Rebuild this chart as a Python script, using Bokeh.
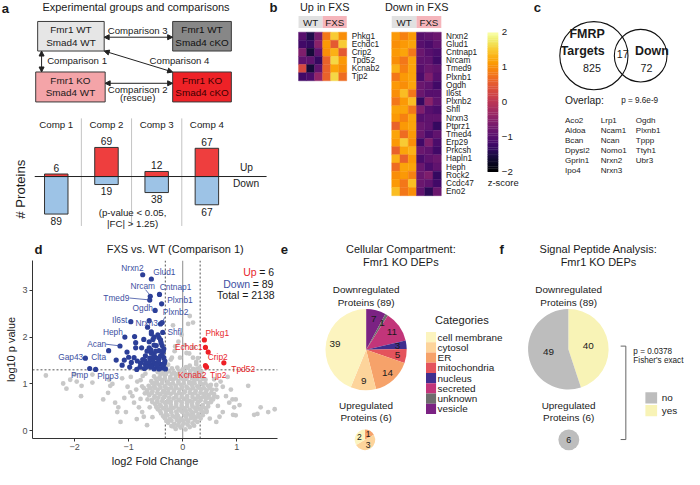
import math
from bokeh.plotting import figure
from bokeh.layouts import row, column
from bokeh.models import Range1d, ColumnDataSource, Arrow, NormalHead, Span, FixedTicker
from bokeh.palettes import Inferno256
from bokeh.transform import linear_cmap
from bokeh.core.properties import value
from bokeh.embed import file_html
from bokeh.resources import INLINE

# ====================== DATA ======================
groups = [("Fmr1 WT", "Smad4 WT"), ("Fmr1 WT", "Smad4 cKO"),
          ("Fmr1 KO", "Smad4 WT"), ("Fmr1 KO", "Smad4 cKO")]
comp_labels = ["Comp 1", "Comp 2", "Comp 3", "Comp 4"]
n_up = [6, 69, 12, 67]
n_down = [89, 19, 38, 67]

heat_cols = ["WT", "WT", "WT", "FXS", "FXS", "FXS"]
up_genes = ["Phkg1", "Echdc1", "Crip2", "Tpd52", "Kcnab2", "Tjp2"]
up_z = [[-1.0, -1.5, -0.7, 0.8, 1.5, 1.0],
        [-1.2, -1.3, -0.5, 1.1, 0.5, 1.5],
        [-0.6, -1.6, -0.9, 1.0, 1.3, 0.5],
        [-0.9, -0.9, -1.3, 0.6, 1.6, 1.1],
        [0.3, -1.6, -0.9, 0.6, 1.2, 1.0],
        [-1.2, -1.1, -0.4, 0.6, 1.6, 0.7]]
down_genes = ["Nrxn2", "Glud1", "Cntnap1", "Nrcam", "Tmed9", "Plxnb1", "Ogdh", "Il6st",
              "Plxnb2", "Shfl", "Nrxn3", "Ptprz1", "Tmed4", "Erp29", "Prkcsh", "Hapln1",
              "Heph", "Rock2", "Ccdc47", "Eno2"]
down_z = [[1.1, 0.9, 1.1, -1.0, -0.9, -0.8],
          [1.0, 1.1, 1.2, -1.0, -1.1, -0.9],
          [1.1, 1.2, 0.8, -0.8, -1.0, -1.1],
          [1.0, 0.8, 1.2, -0.9, -0.9, -1.2],
          [1.3, 0.9, 1.2, -1.0, -0.8, -0.9],
          [0.8, 1.1, 1.2, -1.1, -0.6, -1.0],
          [1.1, 1.0, 1.2, -0.8, -0.9, -1.2],
          [1.0, 1.4, 0.8, -0.8, -1.0, -1.0],
          [0.8, 1.1, 1.4, -1.3, -0.5, -0.9],
          [1.2, 1.2, 0.8, -0.6, -1.0, -1.1],
          [1.1, 0.9, 1.2, -1.0, -0.9, -0.9],
          [0.6, 1.1, 1.2, -0.8, -0.9, -1.3],
          [1.2, 0.7, 1.1, -0.8, -1.1, -0.9],
          [1.1, 1.5, 1.0, -1.2, -0.6, -1.1],
          [0.6, 1.2, 1.3, -0.8, -0.9, -1.2],
          [1.3, 0.6, 1.1, -1.1, -0.9, -0.8],
          [0.7, 1.2, 1.2, -0.8, -1.1, -0.9],
          [1.0, 1.1, 0.9, -0.8, -0.6, -1.3],
          [1.1, 0.8, 1.4, -0.8, -0.9, -1.2],
          [1.4, 0.8, 1.0, -0.9, -1.4, -0.8]]
z_ticks = [2, 1, 0, -1, -2]

venn_names = [["FMRP", "Targets"], ["Down"]]
venn_only = [825, 72]
venn_overlap = 17
overlap_p = "p = 9.6e-9"
overlap_genes = ["Aco2", "Aldoa", "Bcan", "Dpysl2", "Gprin1", "Ipo4",
                 "Lrp1", "Ncam1", "Ncan", "Nomo1", "Nrxn2", "Nrxn3",
                 "Ogdh", "Plxnb1", "Tppp", "Ttyh1", "Ubr3"]

grey_points = [
    (-2.53, 1.18), (-2.21, 1.01), (-2.15, 0.90), (-2.08, 1.09), (-2.00, 1.20), (-1.96, 1.05),
    (-1.87, 0.96), (-1.88, 0.74), (-1.67, 1.20), (-1.67, 1.03), (-1.36, 1.09), (-1.34, 0.96),
    (-1.38, 0.81), (-1.47, 0.67), (-1.25, 0.60), (-1.19, 0.50), (-1.21, 0.40), (-1.05, 0.40),
    (-1.15, 0.19), (-1.02, 0.94), (-0.96, 1.15), (-0.93, 0.74), (-0.90, 0.60), (-0.84, 1.05),
    (-0.81, 0.50), (-0.75, 0.40), (-0.72, 0.91), (-0.69, 1.22), (-0.65, 0.67), (-0.61, 0.50),
    (-0.56, 0.29), (-0.53, 1.01), (-1.12, 1.12), (-1.30, 1.00), (-0.97, 0.82), (-0.86, 0.88),
    (-1.08, 0.70), (-0.78, 0.68), (-0.72, 0.30), (-0.85, 0.25), (-0.66, 0.12),
    (0.89, 0.88), (0.92, 0.67), (0.98, 0.67), (0.93, 0.34), (1.21, 0.96), (1.44, 0.50),
    (1.58, 0.40), (1.70, 0.46), (1.32, 0.34), (1.38, 0.36), (0.83, 1.15), (0.74, 0.94),
    (0.62, 0.88), (0.56, 0.67), (0.65, 0.53), (0.80, 0.74), (0.86, 0.60), (0.95, 0.50),
    (0.44, 0.40), (0.50, 0.26), (0.74, 0.40), (0.62, 0.19), (0.98, 0.33), (0.70, 1.05),
    (0.58, 1.10), (0.52, 0.98), (1.05, 0.55), (0.68, 0.30),
    (0.13, 2.45), (0.10, 2.28), (-0.08, 1.90), (0.04, 1.83), (0.19, 1.56), (-0.05, 1.56),
    (0.25, 1.47), (0.06, 1.36), (0.13, 1.39), (0.25, 1.42), (0.19, 1.32), (-0.15, 1.70),
    (-0.22, 1.52), (0.12, 1.65), (-0.27, 1.41), (0.28, 1.55), (0.31, 1.35), (-0.02, 2.05),
    (0.20, 1.78), (-0.18, 2.25), (0.19, 2.31), (-0.14, 1.80), (0.07, 1.66), (-0.20, 1.56),
    (-0.13, 0.04), (-0.04, 0.07), (0.05, 0.03), (0.13, 0.08), (-0.21, 0.10), (0.21, 0.11),
    (-0.27, 0.17), (-0.16, 0.15), (-0.07, 0.19), (0.02, 0.16), (0.10, 0.20), (0.18, 0.16), (0.27, 0.19),
    (-0.33, 0.27), (-0.24, 0.25), (-0.14, 0.29), (-0.04, 0.26), (0.06, 0.30), (0.15, 0.27),
    (0.24, 0.28), (0.33, 0.26),
    (-0.40, 0.37), (-0.31, 0.35), (-0.21, 0.39), (-0.11, 0.36), (-0.01, 0.40), (0.09, 0.36),
    (0.19, 0.38), (0.29, 0.35), (0.38, 0.39),
    (-0.46, 0.46), (-0.36, 0.48), (-0.27, 0.45), (-0.17, 0.49), (-0.07, 0.46), (0.03, 0.48),
    (0.13, 0.45), (0.22, 0.49), (0.32, 0.46), (0.42, 0.48),
    (-0.51, 0.57), (-0.42, 0.55), (-0.32, 0.59), (-0.22, 0.56), (-0.12, 0.58), (-0.02, 0.55),
    (0.08, 0.59), (0.17, 0.56), (0.27, 0.58), (0.37, 0.55), (0.47, 0.59),
    (-0.57, 0.66), (-0.47, 0.64), (-0.37, 0.68), (-0.27, 0.65), (-0.17, 0.69), (-0.07, 0.66),
    (0.03, 0.68), (0.13, 0.64), (0.23, 0.68), (0.33, 0.65), (0.43, 0.69), (0.53, 0.66),
    (-0.62, 0.76), (-0.52, 0.74), (-0.42, 0.78), (-0.32, 0.75), (-0.22, 0.79), (-0.12, 0.76),
    (-0.02, 0.78), (0.08, 0.74), (0.18, 0.78), (0.28, 0.75), (0.38, 0.79), (0.48, 0.76), (0.58, 0.78),
    (-0.66, 0.86), (-0.56, 0.84), (-0.46, 0.88), (-0.36, 0.85), (-0.26, 0.89), (-0.16, 0.86),
    (-0.06, 0.88), (0.04, 0.84), (0.14, 0.88), (0.24, 0.85), (0.34, 0.89), (0.44, 0.86), (0.54, 0.88),
    (-0.63, 0.96), (-0.53, 0.94), (-0.43, 0.98), (-0.33, 0.95), (-0.23, 0.99), (-0.13, 0.96),
    (-0.03, 0.98), (0.07, 0.94), (0.17, 0.98), (0.27, 0.95), (0.37, 0.99), (0.47, 0.96),
    (-0.58, 1.06), (-0.48, 1.04), (-0.38, 1.08), (-0.28, 1.05), (-0.18, 1.09), (-0.08, 1.06),
    (0.02, 1.08), (0.12, 1.04), (0.22, 1.08), (0.32, 1.05), (0.42, 1.09),
    (-0.53, 1.16), (-0.43, 1.14), (-0.33, 1.18), (-0.23, 1.15), (-0.13, 1.19), (-0.03, 1.16),
    (0.07, 1.18), (0.17, 1.14), (0.27, 1.18), (0.36, 1.15),
    (-0.46, 1.25), (-0.36, 1.23), (-0.26, 1.27), (-0.16, 1.24), (-0.06, 1.28), (0.04, 1.25),
    (0.14, 1.27), (0.24, 1.24), (0.31, 1.28),
    (-0.09, 0.12), (0.00, 0.22), (-0.19, 0.32), (0.14, 0.33), (-0.31, 0.42), (0.25, 0.42),
    (-0.40, 0.52), (0.37, 0.51), (-0.47, 0.61), (0.42, 0.62), (-0.52, 0.71), (0.48, 0.71),
    (-0.57, 0.81), (0.53, 0.81), (-0.60, 0.91), (0.50, 0.91), (-0.56, 1.01), (0.42, 1.01),
    (-0.50, 1.11), (0.37, 1.11), (-0.41, 1.20), (0.30, 1.21), (-0.20, 1.33), (-0.10, 1.35),
    (0.00, 1.31), (0.10, 1.34), (0.21, 1.31), (-0.12, 0.52), (0.08, 0.52), (-0.22, 0.62),
    (0.18, 0.62), (-0.02, 0.72), (-0.32, 0.82), (0.23, 0.81), (-0.12, 0.92), (0.09, 0.91),
    (-0.28, 1.01), (0.17, 1.02), (-0.03, 1.12), (-0.20, 1.22), (0.12, 1.21), (0.35, 0.71),
    (-0.38, 0.63),
    (-0.17, 0.09), (0.09, 0.13), (-0.01, 0.11), (-0.21, 0.22), (-0.11, 0.23), (0.07, 0.24),
    (0.22, 0.23), (-0.30, 0.21), (-0.36, 0.31), (-0.28, 0.33), (-0.09, 0.32), (0.04, 0.33),
    (0.20, 0.32), (0.29, 0.31), (0.37, 0.33), (-0.42, 0.42), (-0.22, 0.43), (-0.12, 0.41),
    (-0.04, 0.43), (0.06, 0.42), (0.16, 0.41), (0.35, 0.42), (0.44, 0.43), (-0.49, 0.51),
    (-0.31, 0.52), (-0.22, 0.51), (-0.02, 0.51), (0.18, 0.52), (0.27, 0.51), (0.47, 0.52),
    (-0.56, 0.61), (-0.28, 0.61), (-0.12, 0.62), (-0.02, 0.61), (0.08, 0.62), (0.28, 0.61),
    (0.52, 0.61), (-0.45, 0.71), (-0.35, 0.72), (-0.25, 0.71), (-0.12, 0.72), (0.08, 0.71),
    (0.18, 0.72), (0.28, 0.71), (0.41, 0.72), (0.57, 0.71), (-0.65, 0.81), (-0.47, 0.81),
    (-0.37, 0.82), (-0.27, 0.81), (-0.17, 0.82), (-0.07, 0.81), (0.03, 0.82), (0.13, 0.81),
    (0.33, 0.82), (0.43, 0.81), (-0.51, 0.91), (-0.41, 0.92), (-0.31, 0.91), (-0.21, 0.92),
    (-0.01, 0.92), (0.19, 0.91), (0.29, 0.92), (0.39, 0.91), (-0.48, 1.01), (-0.38, 1.02),
    (-0.18, 1.01), (-0.08, 1.02), (0.02, 1.01), (0.12, 1.02), (0.22, 1.01), (0.32, 1.02),
    (-0.43, 1.11), (-0.33, 1.12), (-0.23, 1.11), (-0.13, 1.12), (0.07, 1.11), (0.17, 1.12),
    (0.27, 1.11), (-0.31, 1.21), (-0.11, 1.21), (0.02, 1.21), (0.21, 1.20), (-0.30, 1.31),
    (0.27, 1.32), (-0.40, 1.29), (0.35, 1.25), (-0.75, 0.95), (-0.78, 1.08), (-0.70, 0.80),
    (-0.74, 1.17), (0.62, 0.98), (0.64, 0.72)]
down_points = [
    (-0.74, 3.33), (-0.58, 3.24), (-0.60, 2.87), (-0.61, 2.79), (-0.43, 2.91), (-0.51, 2.57),
    (-0.39, 2.71), (-0.38, 2.31), (-0.41, 2.28), (-0.37, 2.10), (-0.96, 2.33), (-1.07, 2.00),
    (-1.16, 1.81), (-1.80, 1.55), (-1.37, 1.71), (-1.72, 1.33), (-1.61, 1.31),
    (-0.89, 2.01), (-0.87, 1.88), (-1.03, 1.68), (-1.23, 1.51), (-1.08, 1.51), (-1.00, 1.57),
    (-0.87, 1.77), (-0.76, 1.77), (-0.69, 1.60), (-0.90, 1.56), (-0.84, 1.49), (-0.78, 1.44),
    (-0.69, 1.42), (-0.85, 1.31), (-0.58, 2.11), (-0.55, 1.95), (-0.53, 1.83), (-0.62, 1.77),
    (-0.58, 1.66), (-0.61, 1.55), (-0.50, 1.56), (-0.64, 1.42), (-0.56, 1.41), (-0.50, 1.44),
    (-0.59, 1.36), (-0.53, 1.32), (-0.71, 1.33), (-0.95, 1.46), (-0.58, 2.07), (-0.53, 2.00),
    (-0.44, 1.99), (-0.41, 1.94), (-0.62, 1.90), (-0.49, 1.82), (-0.38, 1.82), (-0.59, 1.73),
    (-0.44, 1.71), (-0.35, 1.75), (-0.53, 1.63), (-0.38, 1.63), (-0.56, 1.56), (-0.44, 1.53),
    (-0.35, 1.56), (-0.62, 1.46), (-0.41, 1.42), (-0.34, 1.44), (-0.59, 1.37), (-0.47, 1.36),
    (-0.38, 1.34), (-0.32, 1.32), (-0.65, 2.21), (-0.62, 2.35), (-0.72, 1.95), (-0.66, 1.70),
    (-0.74, 1.52), (-0.45, 1.47), (-0.36, 1.39), (-0.44, 1.32), (-0.67, 1.36), (-0.40, 1.88),
    (-0.46, 2.05), (-0.33, 1.49), (-0.79, 1.36), (-1.12, 1.40), (-0.98, 1.36), (-0.50, 1.70),
    (-0.48, 1.40), (-0.41, 1.60), (-0.55, 1.50), (-0.70, 1.50), (-0.36, 1.70)]
up_points = [(0.40, 1.94), (0.42, 1.78), (0.47, 1.68), (0.76, 1.45), (0.42, 1.39), (0.44, 1.36)]
down_label_genes = ["Nrxn2", "Glud1", "Nrcam", "Tmed9", "Cntnap1", "Plxnb1", "Ogdh", "Plxnb2",
                    "Nrxn3", "Il6st", "Heph", "Shfl", "Acan", "Gap43", "Clta", "Pmp", "Plpp3"]
up_label_genes = ["Phkg1", "Echdc1", "Crip2", "Tpd52", "Kcnab2", "Tjp2"]
n_total = 2138
fc_cut = 0.3219
p_cut = 1.301

categories = ["cell membrane", "cytosol", "ER", "mitochondria", "nucleus", "secreted", "unknown", "vesicle"]
comp_down = [39, 9, 14, 5, 3, 11, 1, 7]
comp_up = [2, 3, 1, 0, 0, 0, 0, 0]
signal_labels = ["no", "yes"]
signal_down = [49, 40]
signal_up = [6, 0]
fisher_p = "p = 0.0378"

# ====================== STYLE / LAYOUT ======================
FONT = "Liberation Sans"
DARK = "#1a1a1a"
W, H = 684, 469
SX, SY = W / 700.0, H / 485.0
FS = (SX + SY) / 2.0
cat_colors = ["#fcf4bf", "#fdd49b", "#f6a26a", "#e4535c", "#3f2e8f", "#c2357a", "#6d6d6d", "#7b2283"]
signal_colors = ["#bdbdbd", "#f8f3b6"]


def px(v):
    return int(round(v * SX))


def py(v):
    return int(round(v * SY))


def canvas(x0, x1, y0, y1):
    p = figure(width=px(x1) - px(x0), height=py(y1) - py(y0),
               x_range=Range1d(x0, x1), y_range=Range1d(y1, y0),
               x_axis_type=None, y_axis_type=None, min_border=0,
               outline_line_color=None, toolbar_location=None, tools="",
               output_backend="svg")
    return p


def T(p, x, y, text, size, color=DARK, align="center", baseline="middle", bold=False, angle=0.0):
    if not isinstance(text, (list, tuple)):
        x, y, text = [x], [y], [text]
    p.text(x=list(x), y=list(y), text=[str(t) for t in text], text_font=value(FONT),
           text_font_size=f"{size * FS:.2f}px", text_color=color, text_align=align,
           text_baseline=baseline, text_font_style="bold" if bold else "normal", angle=angle)


def pie(p, cx, cy, r, vals, colors, lab_frac, size):
    total = float(sum(vals))
    nz = [i for i in range(len(vals))][::-1]
    nz = [i for i in nz if vals[i] > 0]
    if len(nz) == 1:
        i = nz[0]
        p.circle(x=[cx], y=[cy], radius=r, fill_color=colors[i], line_color=None)
        T(p, cx, cy, vals[i], size)
        return
    cum = 0.0
    st, en, col, lx, ly, lt = [], [], [], [], [], []
    for i in nz:
        a0 = cum / total * 2 * math.pi
        cum += vals[i]
        a1 = cum / total * 2 * math.pi
        st.append(math.pi / 2 - a0)
        en.append(math.pi / 2 - a1)
        col.append(colors[i])
        mid = (a0 + a1) / 2
        lx.append(cx + lab_frac * r * math.sin(mid))
        ly.append(cy - lab_frac * r * math.cos(mid))
        lt.append(vals[i])
    p.wedge(x=[cx] * len(st), y=[cy] * len(st), radius=r, start_angle=st, end_angle=en,
            direction="clock", fill_color=col, line_color=None)
    T(p, lx, ly, lt, size)


# ---------- panel a : diagram ----------
pa1 = canvas(0, 275, 0, 118)
T(pa1, 5, 8, "a", 13.5, bold=True)
T(pa1, 138.5, 7, "Experimental groups and comparisons", 11.3)
box_l = [38, 176, 36, 176]
box_r = [106, 236, 107, 236]
box_t = [21.7, 21.7, 74, 74]
box_b = [52.3, 52.3, 105, 105]
box_fill = ["#e6e6e6", "#878787", "#f4a4a8", "#ee2227"]
box_txt = [DARK, "#111111", DARK, "#3d0000"]
pa1.quad(left=box_l, right=box_r, top=box_t, bottom=box_b, fill_color=box_fill,
         line_color="#3a3a3a", line_width=1)
for k, (g1, g2) in enumerate(groups):
    cx = (box_l[k] + box_r[k]) / 2
    T(pa1, cx, box_t[k] + 8.8, g1, 10.2, color=box_txt[k])
    T(pa1, cx, box_t[k] + 21.5, g2, 10.2, color=box_txt[k])
arrows = [(106, 38, 176, 38), (42, 52.3, 42, 74), (106, 52.3, 176, 74), (107, 85.7, 176, 85.7)]
for (xs, ys, xe, ye) in arrows:
    pa1.add_layout(Arrow(start=NormalHead(size=5, fill_color="#222", line_color="#222"),
                         end=NormalHead(size=5, fill_color="#222", line_color="#222"),
                         x_start=xs, y_start=ys, x_end=xe, y_end=ye, line_color="#222", line_width=1))
T(pa1, 140.3, 30.7, "Comparison 3", 9.9)
T(pa1, 47.7, 62.3, "Comparison 1", 9.9, align="left")
T(pa1, 183, 62.3, "Comparison 4", 9.9)
T(pa1, 140.3, 92.3, "Comparison 2", 9.9)
T(pa1, 140.3, 100.3, "(rescue)", 9.9)

# ---------- panel a : bars ----------
AX0, AXS, AY0, AYS = 57.0, 51.33, 182.0, 0.435


def ax(r):
    return 1 + (r - AX0) / AXS


def ay(r):
    return (AY0 - r) / AYS


pa2 = figure(width=px(275), height=py(248) - py(118),
             x_range=Range1d(ax(0), ax(275)), y_range=Range1d(ay(248), ay(118)),
             x_axis_type=None, y_axis_type=None, min_border=0, outline_line_color=None,
             toolbar_location=None, tools="", output_backend="svg")
idx = [1, 2, 3, 4]
pa2.segment(x0=[1.5, 2.5, 3.5], y0=[ay(233)] * 3, x1=[1.5, 2.5, 3.5], y1=[ay(122)] * 3,
            line_color="#c4c4c4", line_width=1)
bw = 24 / AXS
pa2.vbar(x=idx, width=bw, top=0, bottom=[-v for v in n_down], fill_color="#9dc3e6",
         line_color="#333333", line_width=1)
pa2.vbar(x=idx, width=bw, top=n_up, bottom=0, fill_color="#ee3e3e",
         line_color="#333333", line_width=1)
pa2.segment(x0=[ax(35)], y0=[0], x1=[ax(272)], y1=[0], line_color="#222", line_width=1)
T(pa2, idx, [ay(128)] * 4, comp_labels, 10)
T(pa2, idx, [v + 6.2 / AYS for v in n_up], n_up, 10.5)
T(pa2, idx, [-v - 7.0 / AYS for v in n_down], n_down, 10.5)
T(pa2, ax(251.5), ay(173), "Up", 10.5)
T(pa2, ax(251), ay(189.5), "Down", 10.5)
T(pa2, ax(135), ay(219), "(p-value < 0.05,", 10)
T(pa2, ax(135), ay(230), "|FC| > 1.25)", 10)
T(pa2, ax(20), ay(195), "# Proteins", 13.5, angle=math.pi / 2)

# ---------- panel b : heatmaps ----------
pb = canvas(275, 545, 0, 248)
T(pb, 279, 7.5, "b", 13.5, bold=True)
T(pb, 331.5, 7, "Up in FXS", 11.2)
T(pb, 425.5, 7, "Down in FXS", 11.2)


def heat(p, genes, z, x0, x1, y0, y1, label_x):
    nr, nc = len(genes), len(z[0])
    cw, ch = (x1 - x0) / nc, (y1 - y0) / nr
    xs, ys, zs = [], [], []
    for i, rowv in enumerate(z):
        for j, v in enumerate(rowv):
            xs.append(x0 + (j + 0.5) * cw)
            ys.append(y0 + (i + 0.5) * ch)
            zs.append(v)
    src = ColumnDataSource(dict(x=xs, y=ys, z=zs))
    cmap = linear_cmap("z", Inferno256, -2, 2)
    p.rect(x="x", y="y", width=cw, height=ch, source=src, fill_color=cmap,
           line_color=cmap, line_width=0.4)
    T(p, [label_x] * nr, [y0 + (i + 0.5) * ch for i in range(nr)], genes, 8.5, align="left")
    grp = []
    for j, g in enumerate(heat_cols):
        if not grp or grp[-1][0] != g:
            grp.append([g, j, j])
        else:
            grp[-1][2] = j
    for g, j0, j1 in grp:
        l, r_ = x0 + j0 * cw, x0 + (j1 + 1) * cw
        p.quad(left=[l], right=[r_], top=[16], bottom=[28.3],
               fill_color="#e1e1e1" if g == "WT" else "#f5b5bb", line_color=None)
        T(p, (l + r_) / 2, 22.3, g, 10)


heat(pb, up_genes, up_z, 304.7, 354, 32.7, 83, 359)
heat(pb, down_genes, down_z, 400, 450.7, 32.7, 201.7, 455.5)
cb_top, cb_bot = 33.0, 177.0
nseg = 80
cb_l, cb_r, cb_t, cb_b, cb_z = [], [], [], [], []
for k in range(nseg):
    t0 = cb_top + (cb_bot - cb_top) * k / nseg
    t1 = cb_top + (cb_bot - cb_top) * (k + 1) / nseg
    cb_l.append(498)
    cb_r.append(509)
    cb_t.append(t0)
    cb_b.append(t1 + 0.3)
    cb_z.append(2 - 4 * (k + 0.5) / nseg)
cbs = ColumnDataSource(dict(l=cb_l, r=cb_r, t=cb_t, b=cb_b, z=cb_z))
pb.quad(left="l", right="r", top="t", bottom="b", source=cbs,
        fill_color=linear_cmap("z", Inferno256, -2, 2), line_color=None)
T(pb, [512.5] * 5, [cb_top + (2 - t) / 4 * (cb_bot - cb_top) for t in z_ticks],
  [str(t).replace("-", "\u2212") for t in z_ticks], 10, align="left")
T(pb, 514, 188, "z-score", 9.7)

# ---------- panel c : venn ----------
pc = canvas(545, 700, 0, 248)
T(pc, 549, 7.5, "c", 13.5, bold=True)
pc.circle(x=[607, 655], y=[57, 57], radius=[35, 27], fill_color=None, line_color="#111", line_width=1.1)
T(pc, 600, 35, venn_names[0][0], 12.8, bold=True)
T(pc, 595.5, 51.7, venn_names[0][1], 12.8, bold=True)
T(pc, 666.5, 51.7, venn_names[1][0], 12.8, bold=True)
T(pc, 605, 70, venn_only[0], 11)
T(pc, 661, 70, venn_only[1], 11)
T(pc, 636.5, 55, venn_overlap, 11)
T(pc, 577.3, 103.3, "Overlap:", 10.6, align="left")
T(pc, 635, 103.3, overlap_p, 8.4, align="left")
col_x = [577.3, 614, 650]
for k, g in enumerate(overlap_genes):
    T(pc, col_x[k // 6], 124 + 10.25 * (k % 6), g, 8.3, align="left")

# ---------- panel d : volcano ----------
pdt = canvas(0, 286, 248, 266)
T(pdt, 7, 257, "d", 13.5, bold=True)
T(pdt, 166.7, 257, "FXS vs. WT (Comparison 1)", 11.3)


def vx(r):
    return (r - 186.3) / 55.2


def vy(r):
    return (446.0 - r) / 48.7


pv = figure(width=px(286), height=H - py(266),
            x_range=Range1d(vx(33), vx(283)), y_range=Range1d(vy(454), vy(269)),
            min_border_left=px(33), min_border_right=px(286) - px(283),
            min_border_top=py(269) - py(266), min_border_bottom=H - py(454),
            outline_line_color=None, toolbar_location=None, tools="", output_backend="svg")
pv.grid.visible = False
pv.xaxis.ticker = FixedTicker(ticks=[-2, -1, 0, 1])
pv.yaxis.ticker = FixedTicker(ticks=[0, 1, 2, 3])
pv.xaxis.axis_label = "log2 Fold Change"
pv.yaxis.axis_label = "log10 p value"
for a in pv.axis:
    a.axis_line_color = "#333333"
    a.major_tick_line_color = "#333333"
    a.major_tick_out = 3
    a.major_tick_in = 0
    a.minor_tick_line_color = None
    a.major_label_text_font = FONT
    a.major_label_text_font_size = f"{9.3 * FS:.2f}px"
    a.major_label_text_color = "#4d4d4d"
    a.major_label_standoff = 2
    a.axis_label_text_font = FONT
    a.axis_label_text_font_style = "normal"
    a.axis_label_text_font_size = f"{11.3 * FS:.2f}px"
    a.axis_label_text_color = DARK
    a.axis_label_standoff = 2
pv.add_layout(Span(location=0, dimension="height", line_color="#8c8c8c", line_width=1, level="underlay"))
for loc in (-fc_cut, fc_cut):
    pv.add_layout(Span(location=loc, dimension="height", line_color="#555555", line_width=1,
                       line_dash="2 2", level="underlay"))
pv.add_layout(Span(location=p_cut, dimension="width", line_color="#555555", line_width=1,
                   line_dash="2 2", level="underlay"))
pv.scatter(x=[p[0] for p in grey_points], y=[p[1] for p in grey_points], size=4.8,
           fill_color="#c8c8c8", line_color=None)
pv.scatter(x=[p[0] for p in down_points], y=[p[1] for p in down_points], size=5.2,
           fill_color="#2c3f98", line_color=None)
pv.scatter(x=[p[0] for p in up_points], y=[p[1] for p in up_points], size=5.2,
           fill_color="#ee1f26", line_color=None)
BL, RD = "#3d50a2", "#e8262b"
dl_x = [vx(r) for r in [135, 167.5, 145.5, 118.5, 179, 183.5, 145.5, 179, 149.5, 122, 115, 178, 98.5, 72, 100.5, 81, 110]]
dl_y = [vy(r) for r in [276.5, 281, 295, 308, 297, 310, 318, 323, 334, 331, 343, 343, 356, 369, 369, 388, 389]]
pv.segment(x0=[vx(148.3), vx(132), vx(108), vx(168)], y0=[vy(299.3), vy(308), vy(356), vy(328)],
           x1=[vx(153.3), vx(152.7), vx(122), vx(165.5)], y1=[vy(305.5), vy(310), vy(357.7), vy(333)],
           line_color=BL, line_width=0.8)
T(pv, dl_x, dl_y, down_label_genes, 8.6, color=BL)
ul_x = [vx(r) for r in [221.5, 192.5, 222, 248, 196, 222.5]]
ul_y = [vy(r) for r in [344, 359, 369, 382, 388, 388]]
T(pv, ul_x, ul_y, up_label_genes, 8.6, color=RD)
T(pv, vx(261.7), vy(281), "Up", 10.8, color="#e8262b", align="right")
T(pv, vx(264.3), vy(281), f"= {len(up_points)}", 10.8, align="left")
T(pv, vx(255), vy(293), "Down", 10.8, color="#3d50a2", align="right")
T(pv, vx(257.7), vy(293), "= 89", 10.8, align="left")
T(pv, vx(280), vy(305), f"Total = {n_total}", 10.8, align="right")

# ---------- panel e : compartments ----------
pe = canvas(286, 520, 248, 485)
T(pe, 291, 257, "e", 13.5, bold=True)
T(pe, 410, 257, "Cellular Compartment:", 11.3)
T(pe, 410, 270, "Fmr1 KO DEPs", 11.3)
T(pe, 374.5, 299, "Downregulated", 10.2)
T(pe, 374.5, 312, f"Proteins ({sum(comp_down)})", 10.2)
pie(pe, 374.5, 361, 41.5, comp_down, cat_colors, 0.78, 10.2)
T(pe, 374.5, 418.3, "Upregulated", 10.2)
T(pe, 374.5, 431, f"Proteins ({sum(comp_up)})", 10.2)
pie(pe, 373.3, 454.3, 10.5, comp_up, cat_colors, 0.62, 8.8)
T(pe, 445, 330.7, "Categories", 11.4, align="left")
lg_t = [342.7 + 10.6 * k for k in range(len(categories))]
pe.quad(left=[435.7] * len(categories), right=[446] * len(categories), top=lg_t,
        bottom=[t + 10.6 for t in lg_t], fill_color=cat_colors, line_color=None)
T(pe, [447.5] * len(categories), [t + 5.3 for t in lg_t], categories, 10.2, align="left")
T(pe, 513, 257, "f", 13.5, bold=True)

# ---------- panel f : signal peptide ----------
pf = canvas(520, 700, 248, 485)
T(pf, 612, 257, "Signal Peptide Analysis:", 11.3)
T(pf, 612, 270, "Fmr1 KO DEPs", 11.3)
T(pf, 581.5, 299, "Downregulated", 10.2)
T(pf, 581.5, 312, f"Proteins ({sum(signal_down)})", 10.2)
pie(pf, 581.2, 360.5, 41.2, signal_down, signal_colors, 0.5, 10.2)
T(pf, 581.5, 418.3, "Upregulated", 10.2)
T(pf, 581.5, 431, f"Proteins ({sum(signal_up)})", 10.2)
pie(pf, 581.7, 454.3, 10.7, signal_up, signal_colors, 0.5, 9.2)
pf.segment(x0=[634.7, 640, 634.7], y0=[357.3, 357.3, 454], x1=[640, 640, 640], y1=[357.3, 454, 454],
           line_color="#666666", line_width=1)
T(pf, 647.7, 362.7, fisher_p, 8.4, align="left")
T(pf, 647.7, 371.7, "Fisher's exact", 8.4, align="left")
pf.quad(left=[660, 660], right=[672, 672], top=[405, 418.3], bottom=[416.7, 430],
        fill_color=signal_colors, line_color=None)
T(pf, [676.7, 676.7], [411, 424], signal_labels, 10.2, align="left")

# ---------- page ----------
page = column(row(column(pa1, pa2), pb, pc), row(column(pdt, pv), pe, pf))
open("out.html", "w").write(file_html(page, INLINE))
